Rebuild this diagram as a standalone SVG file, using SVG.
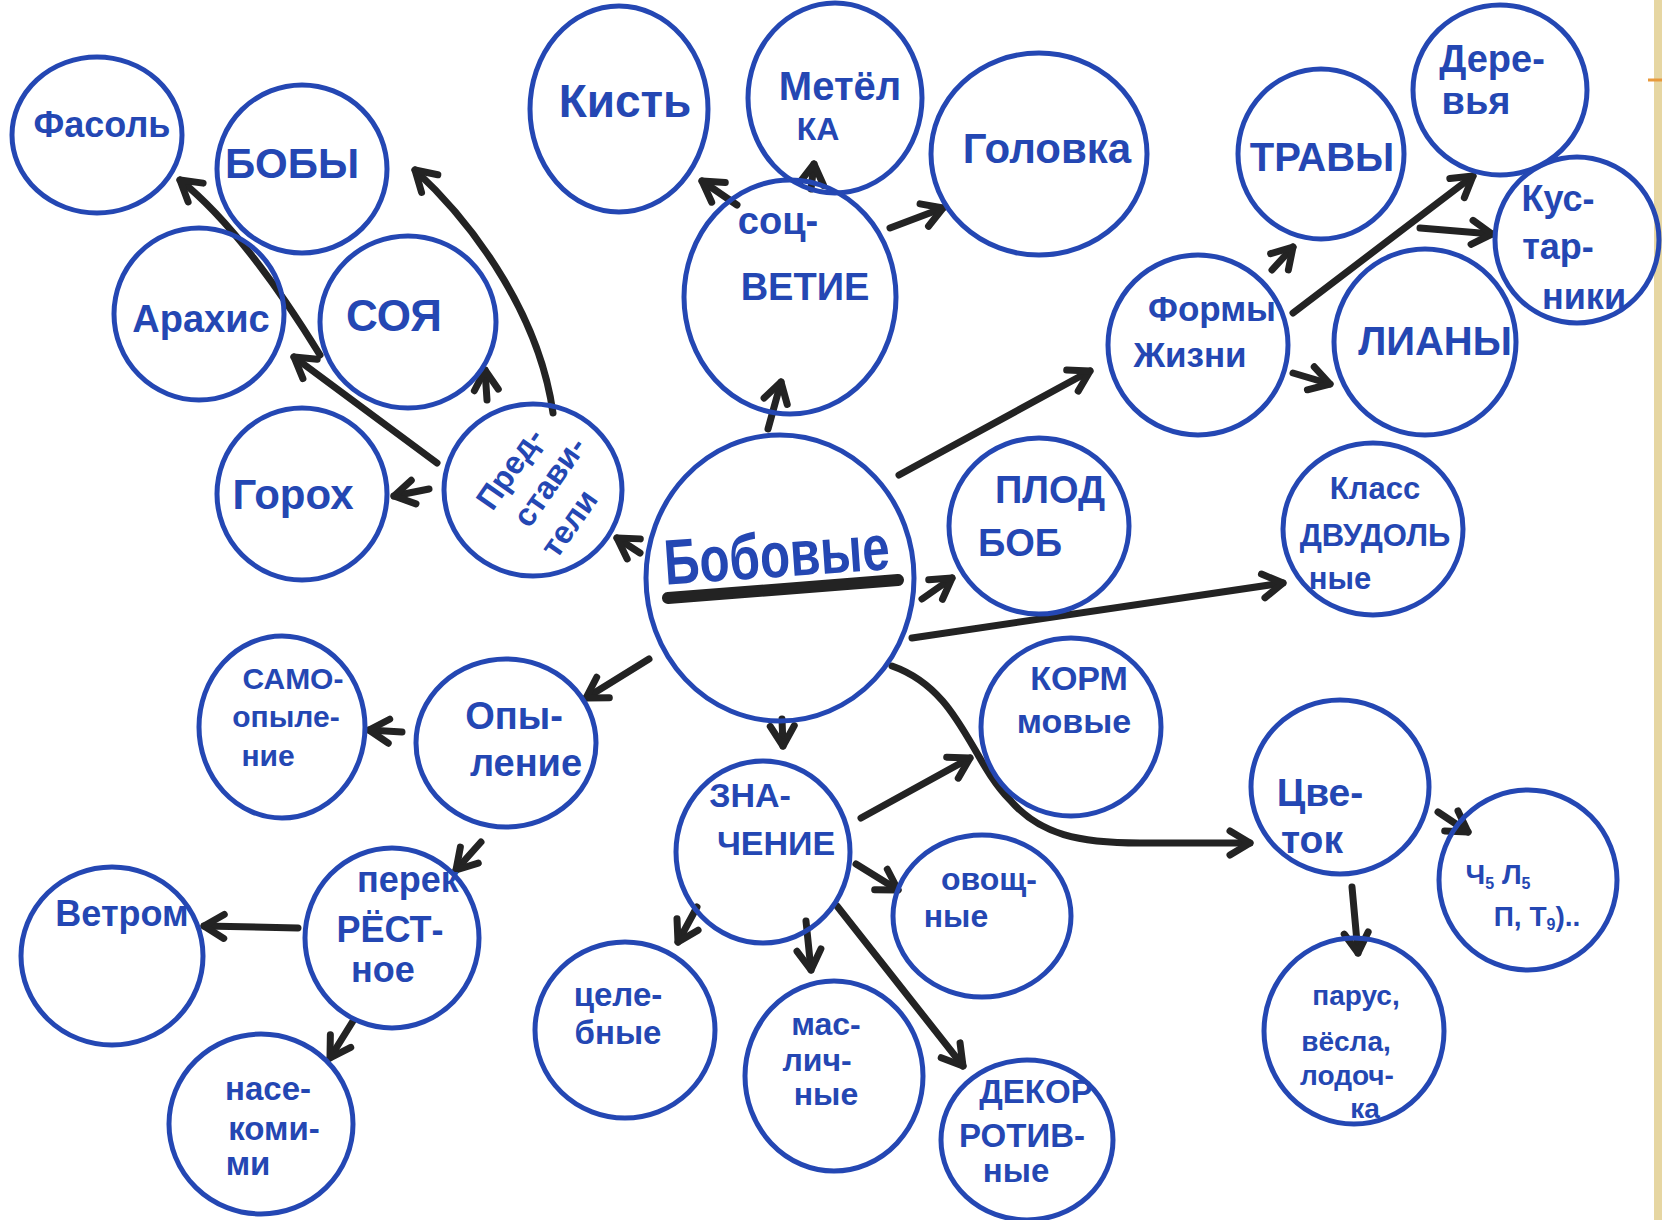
<svg xmlns="http://www.w3.org/2000/svg" width="1662" height="1220" viewBox="0 0 1662 1220">
<defs>
<style>
.n{fill:none;stroke:#2447b3;stroke-width:5}
.t{font-family:"Liberation Sans",Arial,sans-serif;font-weight:bold;fill:#2447b3;text-anchor:middle}
.c{fill:none;stroke:#232323;stroke-width:7;stroke-linecap:round;marker-end:url(#ah)}
</style>
<marker id="ah" markerUnits="userSpaceOnUse" markerWidth="32" markerHeight="32" viewBox="0 0 32 32" refX="27" refY="16" orient="auto">
<path d="M7,4 L27,16 L7,28" fill="none" stroke="#232323" stroke-width="7" stroke-linecap="round" stroke-linejoin="round"/>
</marker>
</defs>
<rect width="1662" height="1220" fill="#ffffff"/>
<rect x="1654" y="0" width="8" height="1220" fill="#e6d6a2"/>
<line x1="1648" y1="80" x2="1662" y2="80" stroke="#e89a3c" stroke-width="3"/>

<g id="connectors">
<path class="c" d="M320,355 C280,290 230,220 180,180"/>
<path class="c" d="M553,413 C540,320 480,230 415,170"/>
<path class="c" d="M437,463 L294,357"/>
<path class="c" d="M487,400 L485,370"/>
<path class="c" d="M429,489 L394,496"/>
<path class="c" d="M640,553 L617,538"/>
<path class="c" d="M768,429 L781,382"/>
<path class="c" d="M737,205 L702,181"/>
<path class="c" d="M811,189 L814,164"/>
<path class="c" d="M890,228 L943,208"/>
<path class="c" d="M899,475 L1090,371"/>
<path class="c" d="M1272,270 L1293,247"/>
<path class="c" d="M1293,313 L1473,176"/>
<path class="c" d="M1420,228 L1492,234"/>
<path class="c" d="M1293,373 L1330,384"/>
<path class="c" d="M922,599 L952,578"/>
<path class="c" d="M912,638 L1283,583"/>
<path class="c" d="M892,666 C960,690 970,760 1010,800 C1040,835 1080,843 1140,843 L1250,843"/>
<path class="c" d="M1438,812 L1468,832"/>
<path class="c" d="M1352,887 L1358,953"/>
<path class="c" d="M861,818 L970,758"/>
<path class="c" d="M782,719 L783,746"/>
<path class="c" d="M856,864 L898,890"/>
<path class="c" d="M697,907 L678,942"/>
<path class="c" d="M806,921 L811,970"/>
<path class="c" d="M837,906 L963,1066"/>
<path class="c" d="M649,659 L586,698"/>
<path class="c" d="M402,732 L369,730"/>
<path class="c" d="M481,842 L456,870"/>
<path class="c" d="M298,928 L204,926"/>
<path class="c" d="M353,1021 L330,1058"/>
</g>

<g id="fasol"><ellipse class="n" cx="97" cy="135" rx="85" ry="78"/><text class="t" x="102" y="137" font-size="36">Фасоль</text></g>
<g id="boby"><ellipse class="n" cx="302" cy="169" rx="85" ry="84"/><text class="t" x="292" y="178" font-size="42">БОБЫ</text></g>
<g id="arahis"><ellipse class="n" cx="199" cy="314" rx="85" ry="86"/><text class="t" x="201" y="332" font-size="38">Арахис</text></g>
<g id="soya"><ellipse class="n" cx="408" cy="322" rx="88" ry="86"/><text class="t" x="394" y="331" font-size="44">СОЯ</text></g>
<g id="goroh"><ellipse class="n" cx="302" cy="494" rx="85" ry="86"/><text class="t" x="293" y="509" font-size="42">Горох</text></g>
<g id="predstaviteli"><ellipse class="n" cx="533" cy="490" rx="89" ry="86"/>
<g transform="translate(540,486) rotate(-55)"><text class="t" font-size="32"><tspan x="-3" y="-24">Пред-</tspan><tspan x="9" y="16">стави-</tspan><tspan x="-14" y="56">тели</tspan></text></g></g>
<g id="bobovye"><ellipse class="n" cx="780" cy="578" rx="134" ry="143"/><text class="t" x="777" y="577" font-size="64" textLength="226" lengthAdjust="spacingAndGlyphs" transform="rotate(-4 777 560)">Бобовые</text><line x1="668" y1="598" x2="898" y2="580" stroke="#232323" stroke-width="12" stroke-linecap="round"/></g>
<g id="kist"><ellipse class="n" cx="619" cy="109" rx="89" ry="103"/><text class="t" x="625" y="117" font-size="46">Кисть</text></g>
<g id="metelka"><ellipse class="n" cx="835" cy="98" rx="87" ry="95"/><text class="t"><tspan x="840" y="100" font-size="40">Метёл</tspan><tspan x="818" y="140" font-size="32">КА</tspan></text></g>
<g id="socvetie"><ellipse class="n" cx="790" cy="297" rx="106" ry="117"/><text class="t" font-size="38"><tspan x="778" y="234">соц-</tspan><tspan x="805" y="300">ВЕТИЕ</tspan></text></g>
<g id="golovka"><ellipse class="n" cx="1039" cy="154" rx="108" ry="101"/><text class="t" x="1047" y="163" font-size="42">Головка</text></g>
<g id="travy"><ellipse class="n" cx="1321" cy="154" rx="83" ry="85"/><text class="t" x="1322" y="171" font-size="40">ТРАВЫ</text></g>
<g id="derevya"><ellipse class="n" cx="1500" cy="90" rx="87" ry="85"/><text class="t" font-size="38"><tspan x="1492" y="72">Дере-</tspan><tspan x="1476" y="114">вья</tspan></text></g>
<g id="kustarniki"><ellipse class="n" cx="1577" cy="240" rx="82" ry="83"/><text class="t" font-size="36"><tspan x="1558" y="211">Кус-</tspan><tspan x="1558" y="259">тар-</tspan><tspan x="1584" y="309">ники</tspan></text></g>
<g id="formy"><ellipse class="n" cx="1198" cy="345" rx="90" ry="90"/><text class="t" font-size="35"><tspan x="1212" y="321">Формы</tspan><tspan x="1190" y="367">Жизни</tspan></text></g>
<g id="liany"><ellipse class="n" cx="1425" cy="342" rx="91" ry="93"/><text class="t" x="1435" y="355" font-size="40">ЛИАНЫ</text></g>
<g id="plod"><ellipse class="n" cx="1039" cy="526" rx="90" ry="88"/><text class="t" font-size="38"><tspan x="1050" y="503">ПЛОД</tspan><tspan x="1020" y="556">БОБ</tspan></text></g>
<g id="klass"><ellipse class="n" cx="1373" cy="529" rx="90" ry="86"/><text class="t" font-size="31"><tspan x="1375" y="499">Класс</tspan><tspan x="1375" y="546">ДВУДОЛЬ</tspan><tspan x="1340" y="589">ные</tspan></text></g>
<g id="kormovye"><ellipse class="n" cx="1071" cy="727" rx="90" ry="89"/><text class="t" font-size="34"><tspan x="1079" y="690">КОРМ</tspan><tspan x="1074" y="733">мовые</tspan></text></g>
<g id="cvetok"><ellipse class="n" cx="1340" cy="787" rx="89" ry="87"/><text class="t" font-size="39"><tspan x="1320" y="806">Цве-</tspan><tspan x="1312" y="853">ток</tspan></text></g>
<g id="formula"><ellipse class="n" cx="1528" cy="880" rx="89" ry="90"/><text class="t" font-size="28"><tspan x="1498" y="884">Ч<tspan font-size="16" dy="5">5</tspan><tspan dy="-5"> Л</tspan><tspan font-size="16" dy="5">5</tspan></tspan><tspan x="1537" y="926">П, Т<tspan font-size="16" dy="4">9</tspan><tspan dy="-4">)..</tspan></tspan></text></g>
<g id="parus"><ellipse class="n" cx="1354" cy="1031" rx="90" ry="93"/><text class="t" font-size="28"><tspan x="1356" y="1005">парус,</tspan><tspan x="1346" y="1051">вёсла,</tspan><tspan x="1347" y="1085">лодоч-</tspan><tspan x="1365" y="1118">ка</tspan></text></g>
<g id="opylenie"><ellipse class="n" cx="506" cy="743" rx="90" ry="84"/><text class="t" font-size="38"><tspan x="514" y="729">Опы-</tspan><tspan x="526" y="776">ление</tspan></text></g>
<g id="samoopylenie"><ellipse class="n" cx="282" cy="727" rx="83" ry="91"/><text class="t" font-size="30"><tspan x="293" y="689">САМО-</tspan><tspan x="286" y="727">опыле-</tspan><tspan x="268" y="766">ние</tspan></text></g>
<g id="perekrestnoe"><ellipse class="n" cx="392" cy="938" rx="87" ry="90"/><text class="t" font-size="36"><tspan x="408" y="892">перек</tspan><tspan x="390" y="942">РЁСТ-</tspan><tspan x="383" y="982">ное</tspan></text></g>
<g id="vetrom"><ellipse class="n" cx="112" cy="956" rx="91" ry="89"/><text class="t" x="122" y="926" font-size="36">Ветром</text></g>
<g id="nasekomymi"><ellipse class="n" cx="261" cy="1124" rx="92" ry="90"/><text class="t" font-size="33"><tspan x="268" y="1100">насе-</tspan><tspan x="274" y="1140">коми-</tspan><tspan x="248" y="1175">ми</tspan></text></g>
<g id="znachenie"><ellipse class="n" cx="763" cy="852" rx="87" ry="91"/><text class="t" font-size="34"><tspan x="750" y="807">ЗНА-</tspan><tspan x="776" y="855">ЧЕНИЕ</tspan></text></g>
<g id="ovoshnye"><ellipse class="n" cx="982" cy="916" rx="89" ry="81"/><text class="t" font-size="32"><tspan x="989" y="890">овощ-</tspan><tspan x="956" y="927">ные</tspan></text></g>
<g id="celebnye"><ellipse class="n" cx="625" cy="1030" rx="90" ry="88"/><text class="t" font-size="33"><tspan x="618" y="1006">целе-</tspan><tspan x="618" y="1044">бные</tspan></text></g>
<g id="maslichnye"><ellipse class="n" cx="834" cy="1076" rx="89" ry="95"/><text class="t" font-size="32"><tspan x="826" y="1035">мас-</tspan><tspan x="817" y="1071">лич-</tspan><tspan x="826" y="1105">ные</tspan></text></g>
<g id="dekorativnye"><ellipse class="n" cx="1027" cy="1140" rx="86" ry="80"/><text class="t" font-size="33"><tspan x="1036" y="1103">ДЕКОР</tspan><tspan x="1022" y="1147">РОТИВ-</tspan><tspan x="1016" y="1182">ные</tspan></text></g>
</svg>
